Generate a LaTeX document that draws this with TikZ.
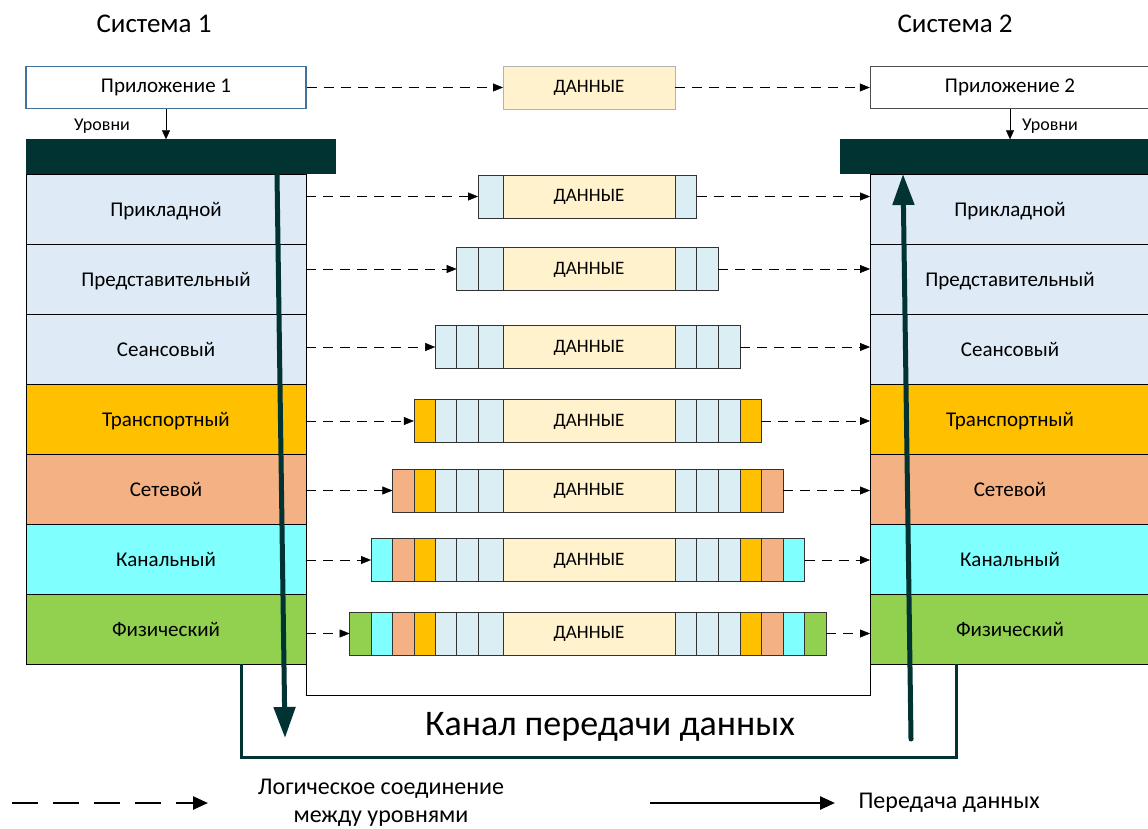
\documentclass[tikz,border=0pt]{standalone}
\usepackage{fontspec}
\setmainfont{Carlito}
\usepackage{tikz}
\usetikzlibrary{positioning}
\usetikzlibrary{arrows.meta}
\usetikzlibrary{calc}
\definecolor{upper}{HTML}{DEEBF7}
\definecolor{hdr}{HTML}{DAEEF3}
\definecolor{transp}{HTML}{FFC000}
\definecolor{netw}{HTML}{F4B183}
\definecolor{chan}{HTML}{80FFFF}
\definecolor{phys}{HTML}{92D050}
\definecolor{datafill}{HTML}{FFF2CC}
\definecolor{darkbar}{HTML}{013333}
\definecolor{appblue}{HTML}{41719C}
\colorlet{hc1}{hdr}
\colorlet{hc2}{hdr}
\colorlet{hc3}{hdr}
\colorlet{hc4}{transp}
\colorlet{hc5}{netw}
\colorlet{hc6}{chan}
\colorlet{hc7}{phys}
\tikzstyle{layer} = [rectangle, draw, minimum width=280pt, minimum height=70pt,
    inner sep=0pt, outer sep=0pt, text height=14pt, text depth=0pt,
    font=\fontsize{21}{25}\selectfont]
\tikzstyle{app} = [rectangle, draw, fill=white, minimum width=280pt,
    minimum height=42pt, font=\fontsize{21}{25}\selectfont]
\tikzstyle{topbar} = [rectangle, fill=darkbar, minimum width=310pt, minimum height=35pt]
\tikzstyle{hcell} = [rectangle, draw=black!80, inner sep=0pt, outer sep=0pt,
    minimum height=43pt, minimum width=21.5pt]
\tikzstyle{datablock} = [hcell, fill=datafill, minimum width=172pt,
    font=\fontsize{19}{22}\selectfont, text depth=2pt]
\tikzstyle{line} = [draw, dash pattern=on 10pt off 7pt, -{Triangle[length=10pt, width=8pt]}]
\tikzstyle{flow} = [draw=darkbar, line width=5pt, -{Triangle[length=31pt, width=21pt]}]
\tikzstyle{channel} = [draw=darkbar, line width=3pt]
\tikzstyle{legendtext} = [font=\fontsize{24}{28}\selectfont]

\begin{document}
\begin{tikzpicture}[x=1pt, y=-1pt, node distance=0pt]
    \useasboundingbox (0,0) rectangle (1148,829);
    % Place nodes
    \node[font=\fontsize{27}{32}\selectfont] (sys1) at (154,24) {Система 1};
    \node[font=\fontsize{27}{32}\selectfont] (sys2) at (955,24) {Система 2};
    \node[app, draw=appblue, line width=1.5pt] (app1) at (166,87.5) {Приложение 1};
    \node[app, draw=black!70] (app2) at (1010,87.5) {Приложение 2};
    \node[datablock, draw=black!30] (d0) at (589,87.5) {ДАННЫЕ};
    \node[font=\fontsize{18}{22}\selectfont] (lv1) at (102,126) {Уровни};
    \node[font=\fontsize{18}{22}\selectfont] (lv2) at (1050,126) {Уровни};
    \foreach \i/\name/\col in {1/Прикладной/upper, 2/Представительный/upper,
        3/Сеансовый/upper, 4/Транспортный/transp, 5/Сетевой/netw,
        6/Канальный/chan, 7/Физический/phys}
    {
        \node[layer, fill=\col] (l\i) at (166,139+70*\i) {\name};
        \node[layer, fill=\col] (r\i) at (1010,139+70*\i) {\name};
    }
    \node[topbar] (bar1) at (181,157) {};
    \node[topbar] (bar2) at (995,157) {};
    % Packets, one per level
    \foreach \k/\y in {1/196.5, 2/269, 3/347, 4/421, 5/490.5, 6/560, 7/633.5}
    {
        \node[datablock, alias=a\k-0, alias=b\k-0] (d\k) at (589,\y) {ДАННЫЕ};
        \foreach \i in {1,...,\k}
        {
            \pgfmathtruncatemacro{\j}{\i-1}
            \pgfmathsetmacro{\w}{\i==1 ? 25 : 21.4}
            \node[hcell, fill=hc\i, minimum width=\w pt, left=of a\k-\j] (a\k-\i) {};
            \node[hcell, fill=hc\i, minimum width=21.6pt, right=of b\k-\j] (b\k-\i) {};
        }
        \path [line] (a\k-\k.west -| l\k.east) -- (a\k-\k.west);
        \path [line] (b\k-\k.east) -- (b\k-\k.east -| r\k.west);
    }
    % Draw edges
    \path [line] (app1.east) -- (d0.west);
    \path [line] (d0.east) -- (app2.west);
    \draw [-{Triangle[length=9pt, width=8pt]}] (app1.south) -- (app1.south |- bar1.north);
    \draw [-{Triangle[length=9pt, width=8pt]}] (app2.south) -- (app2.south |- bar2.north);
    \draw (l7.south east) -- ++(0,31) -| (r7.south west);
    \coordinate (ch1) at ($(l7.south west)+(215,0)$);
    \coordinate (ch2) at ($(r7.south west)+(86,0)$);
    \draw [channel] (ch1) -- ++(0,93) -| (ch2);
    \coordinate (down1) at (277,174);
    \coordinate (down2) at (285,738);
    \coordinate (up1) at (911,739);
    \coordinate (up2) at (903,174);
    \path [flow] (down1) -- (down2);
    \path [flow, line cap=round] (up1) -- (up2);
    \node[font=\fontsize{36}{40}\selectfont] (chlabel) at (610,727) {Канал передачи данных};
    % Legend
    \coordinate (lg1) at (12,803);
    \coordinate (lg2) at (208,803);
    \draw [line width=2.5pt, dash pattern=on 26pt off 15pt,
        -{Triangle[length=15pt, width=13pt]}] (lg1) -- (lg2);
    \node[legendtext, align=center] (lgtext1) at (381,803) {Логическое соединение\\между уровнями};
    \coordinate (lg3) at (650,803);
    \coordinate (lg4) at (835,803);
    \draw [line width=2.5pt, -{Triangle[length=15pt, width=13pt]}] (lg3) -- (lg4);
    \node[legendtext, anchor=west] (lgtext2) at (855,803) {Передача данных};
\end{tikzpicture}
\end{document}
